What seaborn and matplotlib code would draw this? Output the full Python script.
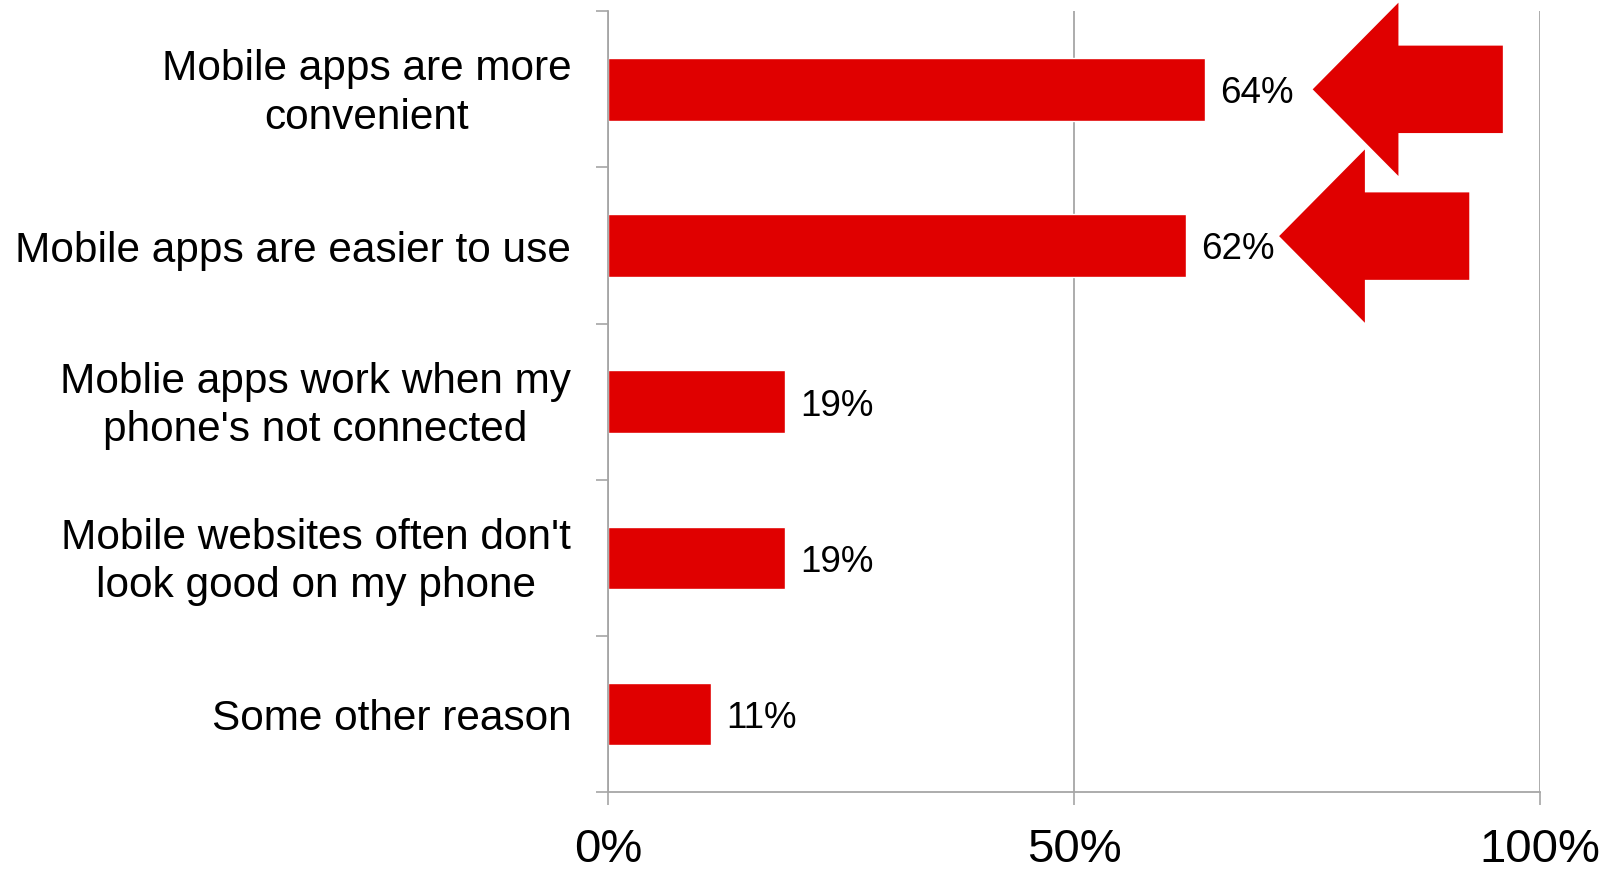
import matplotlib
matplotlib.use("Agg")
import matplotlib.pyplot as plt
from matplotlib.patches import FancyArrow
from matplotlib.ticker import FixedLocator
from matplotlib.transforms import ScaledTranslation
import seaborn as sns
import pandas as pd

# Survey answers: why people prefer mobile apps over mobile websites
reasons = [
    "Mobile apps are more\nconvenient",
    "Mobile apps are easier to use",
    "Moblie apps work when my\nphone's not connected",
    "Mobile websites often don't\nlook good on my phone",
    "Some other reason",
]
shares = [64, 62, 19, 19, 11]
x_ticks = [0, 50, 100]
x_tick_labels = ["0%", "50%", "100%"]
highlighted = [0, 1]          # reasons pointed out with an arrow

BAR_RED = "#e00000"
AXIS_GREY = "#a6a6a6"

sns.set_style("white")
plt.rcParams["font.family"] = ["Liberation Sans", "DejaVu Sans"]

df = pd.DataFrame({"reason": reasons, "share": shares})

fig = plt.figure(figsize=(16.11, 8.70), dpi=100)
ax = fig.add_axes([0.3774, 0.0885, 0.956 - 0.3774, 0.9859 - 0.0885])

sns.barplot(data=df, x="share", y="reason", orient="h", color=BAR_RED,
            saturation=1, width=0.4, ax=ax)

ax.set_xlim(0, 100)
ax.set_ylim(len(reasons) - 0.5, -0.5)
ax.set_xlabel("")
ax.set_ylabel("")

# value labels at the end of each bar
for i, v in enumerate(shares):
    ax.annotate(f"{v}%", xy=(v, i), xytext=(11, -2.5), textcoords="offset points",
                ha="left", va="center", fontsize=26.5, color="black")

# big arrows pointing back at the two leading answers
for i, gap, dy in zip(highlighted, (11.6, 10.0), (0.0, -0.06)):
    tip = shares[i] + gap
    length = 20.4
    arrow = FancyArrow(tip + length, i + dy, -length, 0, width=0.56,
                       head_width=1.11, head_length=9.2,
                       length_includes_head=True, color=BAR_RED, lw=0,
                       clip_on=False, zorder=4)
    ax.add_patch(arrow)

# x axis: percentage scale with vertical grid
ax.set_xticks(x_ticks)
ax.set_xticklabels(x_tick_labels, fontsize=34, color="black")
ax.tick_params(axis="x", which="major", direction="out", length=9.5, width=1.2,
               color=AXIS_GREY, pad=16, bottom=True, labelcolor="black")
ax.xaxis.grid(True, color=AXIS_GREY, linewidth=1.3)
ax.set_axisbelow(True)

# y axis: category labels centred in each band, ticks on the band edges
ax.yaxis.set_minor_locator(FixedLocator([k - 0.5 for k in range(len(reasons) + 1)]))
ax.tick_params(axis="y", which="major", length=0, pad=26.5, labelsize=30.5,
               labelcolor="black")
ax.tick_params(axis="y", which="minor", direction="out", length=9, width=1.2,
               color=AXIS_GREY, left=True)
lift = ScaledTranslation(0, 4 / 72, fig.dpi_scale_trans)
for lab in ax.get_yticklabels():
    lab.set_multialignment("center")
    lab.set_linespacing(1.27)
    if "\n" in lab.get_text():
        lab.set_transform(lab.get_transform() + lift)

for side in ["top", "right"]:
    ax.spines[side].set_visible(False)
for side in ["left", "bottom"]:
    ax.spines[side].set_color(AXIS_GREY)
    ax.spines[side].set_linewidth(1.3)

fig.savefig("out.png", dpi=100, facecolor="white")
